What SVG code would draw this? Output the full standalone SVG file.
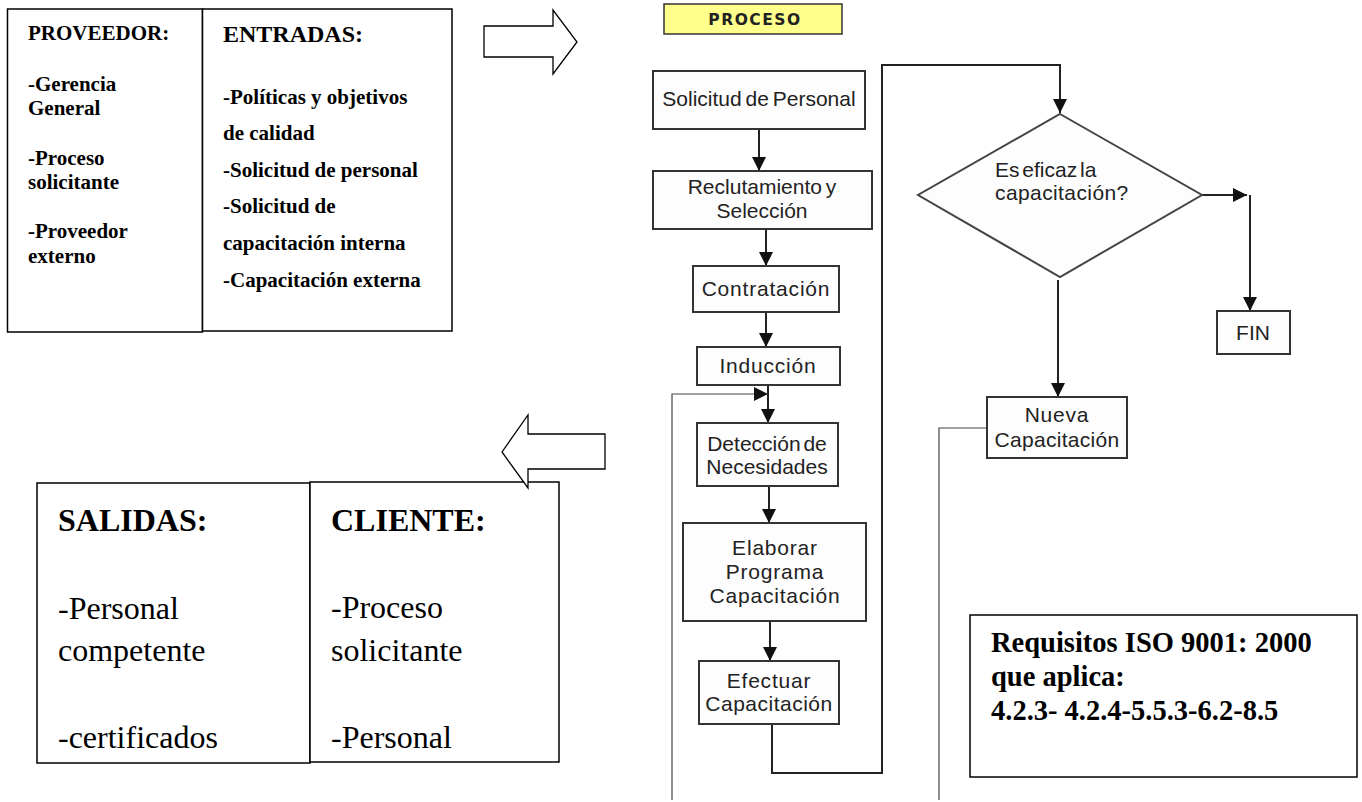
<svg xmlns="http://www.w3.org/2000/svg" width="1362" height="802" viewBox="0 0 1362 802">
  <defs>
    <marker id="ah" markerUnits="userSpaceOnUse" markerWidth="14" markerHeight="14" viewBox="0 0 14 14" refX="14" refY="7" orient="auto">
      <path d="M0,0 L14,7 L0,14 z" fill="#111"/>
    </marker>
    <style>
      .doc { fill: #fff; stroke: #000; stroke-width: 1.5; }
      .blk { fill: #fff; stroke: #000; stroke-width: 1.3; }
      .tb { font-family: "Liberation Serif", "Times New Roman", serif; font-weight: bold; fill: #000; }
      .tr { font-family: "Liberation Serif", "Times New Roman", serif; fill: #000; }
      .box { fill: #fdfdfd; stroke: #333; stroke-width: 2; }
      .ft { font-family: "Liberation Sans", Arial, sans-serif; font-size: 21px; fill: #222; text-anchor: middle; }
      .fl { font-family: "Liberation Sans", Arial, sans-serif; font-size: 21px; fill: #222; text-anchor: start; }
      .flow { fill: none; stroke: #222; stroke-width: 2; }
      .thin { fill: none; stroke: #444; stroke-width: 1.2; }
    </style>
  </defs>

  <!-- supplier / input side -->
  <g id="proveedor">
    <rect class="doc" x="7.5" y="9" width="195" height="323"/>
    <text class="tb" font-size="21" x="28" y="40">PROVEEDOR:</text>
    <text class="tb" font-size="21" x="28" y="91">-Gerencia</text>
    <text class="tb" font-size="21" x="28" y="115">General</text>
    <text class="tb" font-size="21" x="28" y="165">-Proceso</text>
    <text class="tb" font-size="21" x="28" y="189">solicitante</text>
    <text class="tb" font-size="21" x="28" y="238">-Proveedor</text>
    <text class="tb" font-size="21" x="28" y="263">externo</text>
  </g>
  <g id="entradas">
    <rect class="doc" x="202.5" y="9" width="249.5" height="322"/>
    <text class="tb" font-size="24" x="223" y="42">ENTRADAS:</text>
    <text class="tb" font-size="21" x="223" y="104">-Políticas y objetivos</text>
    <text class="tb" font-size="21" x="223" y="140">de calidad</text>
    <text class="tb" font-size="21" x="223" y="177">-Solicitud de personal</text>
    <text class="tb" font-size="21" x="223" y="213">-Solicitud de</text>
    <text class="tb" font-size="21" x="223" y="250">capacitación interna</text>
    <text class="tb" font-size="21" x="223" y="287">-Capacitación externa</text>
  </g>
  <g id="flecha-entrada">
    <polygon class="blk" points="484,26 553,26 553,10 577,42 553,74 553,57 484,57"/>
  </g>

  <!-- output / client side -->
  <g id="salidas">
    <rect class="doc" x="37" y="483" width="273" height="280"/>
    <text class="tb" font-size="32" x="58" y="531">SALIDAS:</text>
    <text class="tr" font-size="32" x="58" y="619">-Personal</text>
    <text class="tr" font-size="32" x="58" y="661">competente</text>
    <text class="tr" font-size="32" x="58" y="748">-certificados</text>
  </g>
  <g id="cliente">
    <rect class="doc" x="310" y="482" width="249" height="280"/>
    <text class="tb" font-size="32" x="331" y="531">CLIENTE:</text>
    <text class="tr" font-size="32" x="331" y="618">-Proceso</text>
    <text class="tr" font-size="32" x="331" y="661">solicitante</text>
    <text class="tr" font-size="32" x="331" y="748">-Personal</text>
  </g>
  <g id="flecha-salida">
    <polygon class="blk" points="502,452 528,415 528,434 605,434 605,469 528,469 528,488"/>
  </g>

  <!-- process title -->
  <g id="proceso">
    <rect x="664" y="4" width="178" height="30" fill="#ffff8c" stroke="#333" stroke-width="1.5"/>
    <text x="755" y="25" font-family="'DejaVu Sans', Verdana, sans-serif" font-weight="bold" font-size="15.5" letter-spacing="1.5" text-anchor="middle" fill="#222">PROCESO</text>
  </g>

  <!-- connectors -->
  <g id="connectors">
    <path class="flow" d="M759,129 V171" marker-end="url(#ah)"/>
    <path class="flow" d="M766,229 V266" marker-end="url(#ah)"/>
    <path class="flow" d="M766,312 V347" marker-end="url(#ah)"/>
    <path class="flow" d="M768,385 V423" marker-end="url(#ah)"/>
    <path class="flow" d="M769,486 V523" marker-end="url(#ah)"/>
    <path class="flow" d="M770,621 V661" marker-end="url(#ah)"/>
    <path class="flow" stroke-width="2.5" stroke="#333" d="M772,724 V773 H882 V65 H1060 V113" marker-end="url(#ah)"/>
    <path class="flow" d="M1202,195 H1247" marker-end="url(#ah)"/>
    <path class="flow" stroke-width="1.6" d="M1250,195 V311" marker-end="url(#ah)"/>
    <path class="flow" stroke-width="1.6" d="M1058,280 V397" marker-end="url(#ah)"/>
    <path class="thin" d="M672,800 V394 H768" marker-end="url(#ah)"/>
    <path class="thin" d="M987,428 H939 V800"/>
  </g>

  <!-- flowchart steps -->
  <g id="solicitud">
    <rect class="box" x="653" y="71" width="212" height="58"/>
    <text class="ft" x="759" y="106" style="word-spacing:-2px">Solicitud de Personal</text>
  </g>
  <g id="reclutamiento">
    <rect class="box" x="653" y="171" width="219" height="58"/>
    <text class="ft" x="762" y="194" style="word-spacing:-2px">Reclutamiento y</text>
    <text class="ft" x="762" y="218">Selección</text>
  </g>
  <g id="contratacion">
    <rect class="box" x="693" y="266" width="146" height="46"/>
    <text class="ft" x="766" y="296" style="letter-spacing:0.8px">Contratación</text>
  </g>
  <g id="induccion">
    <rect class="box" x="697" y="347" width="143" height="38"/>
    <text class="ft" x="768" y="373" style="letter-spacing:0.8px">Inducción</text>
  </g>
  <g id="deteccion">
    <rect class="box" x="697" y="423" width="141" height="63"/>
    <text class="ft" x="767" y="451" style="word-spacing:-3px">Detección de</text>
    <text class="ft" x="767" y="474">Necesidades</text>
  </g>
  <g id="elaborar">
    <rect class="box" x="683" y="523" width="183" height="98"/>
    <text class="ft" x="775" y="555" style="letter-spacing:0.8px">Elaborar</text>
    <text class="ft" x="775" y="579" style="letter-spacing:0.8px">Programa</text>
    <text class="ft" x="775" y="603" style="letter-spacing:0.8px">Capacitación</text>
  </g>
  <g id="efectuar">
    <rect class="box" x="699" y="661" width="140" height="63"/>
    <text class="ft" x="769" y="688" style="letter-spacing:0.8px">Efectuar</text>
    <text class="ft" x="769" y="711" style="letter-spacing:0.5px">Capacitación</text>
  </g>
  <g id="decision">
    <polygon points="1060,114 1202,195 1060,277 918,195" fill="#fdfdfd" stroke="#444" stroke-width="2"/>
    <text class="fl" x="995" y="177" style="word-spacing:-3px">Es eficaz la</text>
    <text class="fl" x="995" y="200" style="letter-spacing:0.4px">capacitación?</text>
  </g>
  <g id="fin">
    <rect class="box" x="1217" y="311" width="73" height="43"/>
    <text class="ft" x="1253" y="340">FIN</text>
  </g>
  <g id="nueva">
    <rect class="box" x="987" y="397" width="140" height="61"/>
    <text class="ft" x="1057" y="422" style="letter-spacing:0.8px">Nueva</text>
    <text class="ft" x="1057" y="447" style="letter-spacing:0.3px">Capacitación</text>
  </g>

  <!-- standard requirements note -->
  <g id="requisitos">
    <rect class="doc" x="970" y="615" width="387" height="162"/>
    <text class="tb" font-size="28.5" x="991" y="652">Requisitos ISO 9001: 2000</text>
    <text class="tb" font-size="28.5" x="991" y="686">que aplica:</text>
    <text class="tb" font-size="28.5" x="991" y="720">4.2.3- 4.2.4-5.5.3-6.2-8.5</text>
  </g>
</svg>
